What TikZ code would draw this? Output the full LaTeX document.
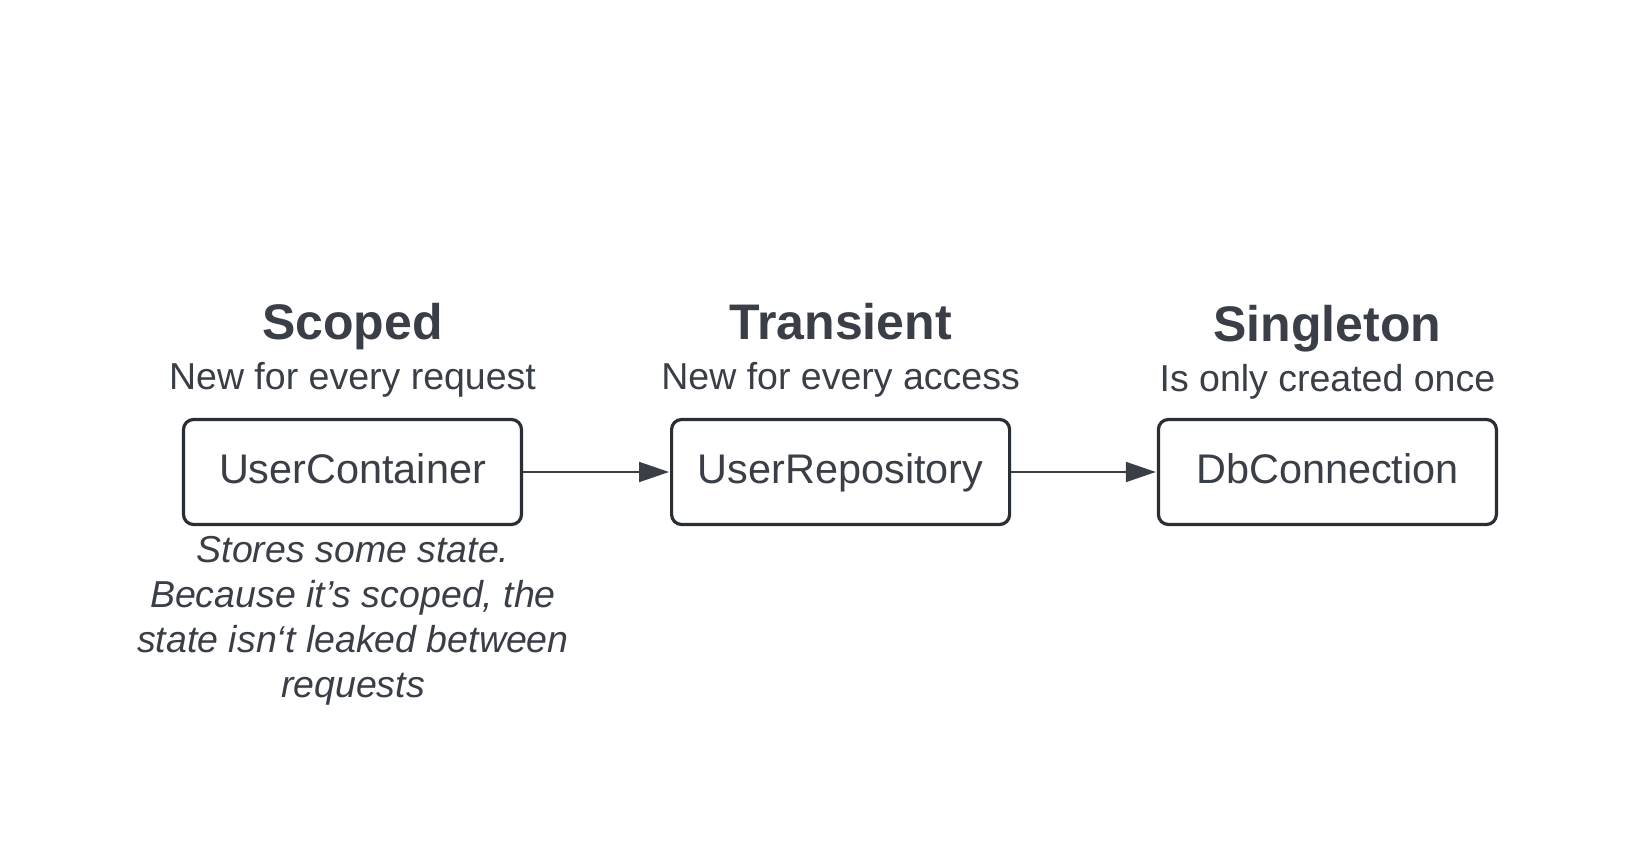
\documentclass[tikz,border=0pt]{standalone}
\usepackage{fontspec}
\setmainfont{Liberation Sans}
\usetikzlibrary{arrows.meta}
\definecolor{txt}{HTML}{393E47}
\definecolor{edge}{HTML}{2A2E35}
\tikzset{
  title/.style={anchor=base, inner sep=0pt, text=txt, font=\fontsize{50}{60}\selectfont\bfseries},
  subtitle/.style={anchor=base, inner sep=0pt, text=txt, font=\fontsize{37.5}{45}\selectfont},
  note/.style={anchor=base, inner sep=0pt, text=txt, align=center, font=\fontsize{37.5}{45}\selectfont\itshape},
  svcbox/.style={draw=edge, line width=3.2pt, rounded corners=10pt, minimum width=338pt, minimum height=105pt, inner sep=0pt, text height=26pt, text depth=4pt, text=txt, font=\fontsize{41.4}{49}\selectfont},
  link/.style={draw=txt, line width=2pt, -{Triangle[length=30pt, width=20pt]}, shorten >=1pt}
}
\begin{document}
\begin{tikzpicture}[x=1pt, y=-1pt]
\useasboundingbox (0,0) rectangle (1629,859);
\fill[white] (0,0) rectangle (1629,859);

\node[svcbox] (uc) at (352.5,472) {UserContainer};
\node[svcbox] (ur) at (840.6,472) {UserRepository};
\node[svcbox] (db) at (1327.4,472) {DbConnection};

\node[title] (t1) at (352.5,339) {Scoped};
\node[subtitle] (s1) at (352.5,389) {New for every request};
\node[title] (t2) at (840.6,339) {Transient};
\node[subtitle] (s2) at (840.6,389) {New for every access};
\node[title] (t3) at (1327.4,341) {Singleton};
\node[subtitle] (s3) at (1327.4,391) {Is only created once};

\node[note] (n1) at (353,697) {Stores some state.\\Because it’s scoped, the\\state isn‘t leaked between\\requests};

\draw[link] (uc.east) -- (ur.west);
\draw[link] (ur.east) -- (db.west);
\end{tikzpicture}
\end{document}
